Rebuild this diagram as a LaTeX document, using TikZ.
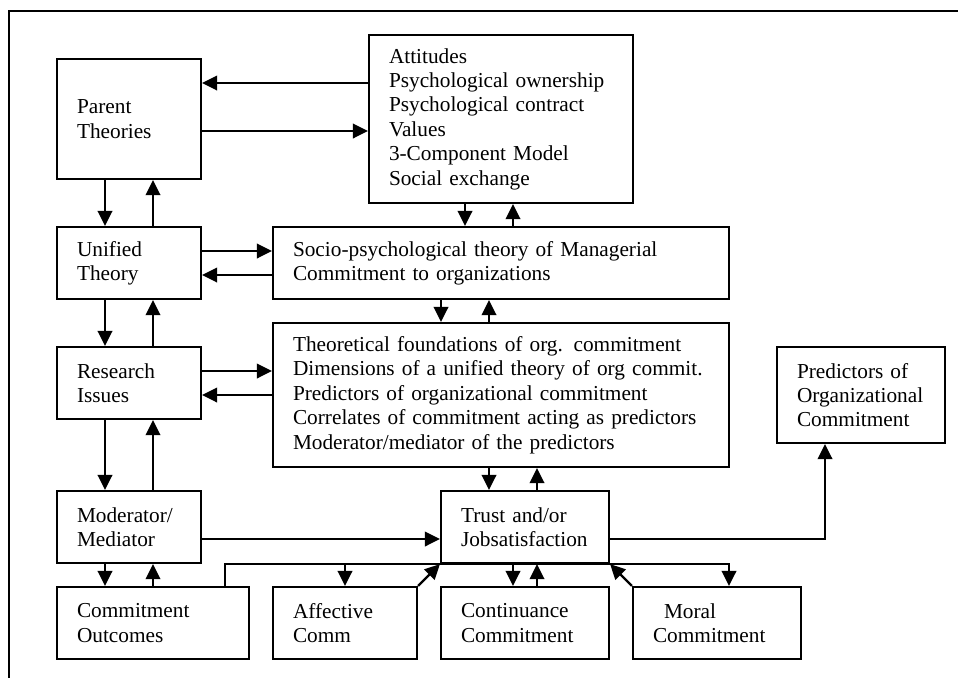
\documentclass[tikz,border=0pt]{standalone}
\usepackage{fontspec}
\setmainfont{Liberation Serif}
\usetikzlibrary{arrows.meta}
\begin{document}
\begin{tikzpicture}[x=1pt,y=-1pt,
  font=\fontsize{21.3}{24.4}\selectfont,
  bx/.style={draw, line width=2.2pt, inner xsep=20pt, inner ysep=0pt,
             align=left, text width=#1},
  arr/.style={line width=2.2pt, -{Triangle[length=15pt,width=14.5pt]}},
  ln/.style={line width=2.2pt}]
\useasboundingbox (0,0) rectangle (958,678);

% outer frame (top and left edges)
\draw[ln] (958,11) -- (9,11) -- (9,678);

% boxes
\node[bx=104pt, minimum height=120pt] (par) at (129,119) {Parent\\Theories};
\node[bx=224pt, minimum height=168pt] (att) at (501,119)
  {Attitudes\\Psychological ownership\\Psychological contract\\Values\\3-Component Model\\Social exchange};
\node[bx=104pt, minimum height=72pt] (uni) at (129,263) {Unified\\Theory};
\node[bx=416pt, minimum height=72pt] (soc) at (501,263)
  {Socio-psychological theory of Managerial\\Commitment to organizations};
\node[bx=104pt, minimum height=72pt] (res) at (129,383) {Research\\Issues};
\node[bx=416pt, minimum height=144pt] (theo) at (501,395)
  {Theoretical foundations of org. commitment\\Dimensions of a unified theory of org commit.\\Predictors of organizational commitment\\Correlates of commitment acting as predictors\\Moderator/mediator of the predictors};
\node[bx=128pt, minimum height=96pt] (pred) at (861,395)
  {Predictors of\\Organizational\\Commitment};
\node[bx=104pt, minimum height=72pt] (mod) at (129,527) {Moderator/\\Mediator};
\node[bx=128pt, minimum height=72pt] (trust) at (525,527) {Trust and/or\\Jobsatisfaction};
\node[bx=152pt, minimum height=72pt] (out) at (153,623) {Commitment\\Outcomes};
\node[bx=104pt, minimum height=72pt] (aff) at (345,623) {Affective\\Comm};
\node[bx=128pt, minimum height=72pt] (cont) at (525,623) {Continuance\\Commitment};
\node[bx=128pt, minimum height=72pt] (mor) at (717,623) {\hspace*{11pt}Moral\\Commitment};

% horizontal pairs
\draw[arr] (att.west |- 0,83) -- (par.east |- 0,83);
\draw[arr] (par.east |- 0,131) -- (att.west |- 0,131);
\draw[arr] (uni.east |- 0,251) -- (soc.west |- 0,251);
\draw[arr] (soc.west |- 0,275) -- (uni.east |- 0,275);
\draw[arr] (res.east |- 0,371) -- (theo.west |- 0,371);
\draw[arr] (theo.west |- 0,395) -- (res.east |- 0,395);
\draw[arr] (mod.east |- 0,539) -- (trust.west |- 0,539);

% vertical pairs on the left column
\draw[arr] (par.south -| 105,0) -- (uni.north -| 105,0);
\draw[arr] (uni.north -| 153,0) -- (par.south -| 153,0);
\draw[arr] (uni.south -| 105,0) -- (res.north -| 105,0);
\draw[arr] (res.north -| 153,0) -- (uni.south -| 153,0);
\draw[arr] (res.south -| 105,0) -- (mod.north -| 105,0);
\draw[arr] (mod.north -| 153,0) -- (res.south -| 153,0);
\draw[arr] (mod.south -| 105,0) -- (out.north -| 105,0);
\draw[arr] (out.north -| 153,0) -- (mod.south -| 153,0);

% vertical pairs in the middle column
\draw[arr] (att.south -| 465,0) -- (soc.north -| 465,0);
\draw[arr] (soc.north -| 513,0) -- (att.south -| 513,0);
\draw[arr] (soc.south -| 441,0) -- (theo.north -| 441,0);
\draw[arr] (theo.north -| 489,0) -- (soc.south -| 489,0);
\draw[arr] (theo.south -| 489,0) -- (trust.north -| 489,0);
\draw[arr] (trust.north -| 537,0) -- (theo.south -| 537,0);
\draw[arr] (trust.south -| 513,0) -- (cont.north -| 513,0);
\draw[arr] (cont.north -| 537,0) -- (trust.south -| 537,0);

% trust to predictors
\draw[arr] (trust.east |- 0,539) -| (pred.south -| 825,0);

% outcomes line running under the trust box to moral commitment
\draw[arr] (out.north -| 225,0) |- (trust.south) -| (mor.north -| 729,0);
\draw[arr] (aff.north |- trust.south) -- (aff.north);

% diagonal feeds into trust
\draw[arr] (aff.north east) -- (trust.south west);
\draw[arr] (mor.north west) -- (trust.south east);
\end{tikzpicture}
\end{document}
